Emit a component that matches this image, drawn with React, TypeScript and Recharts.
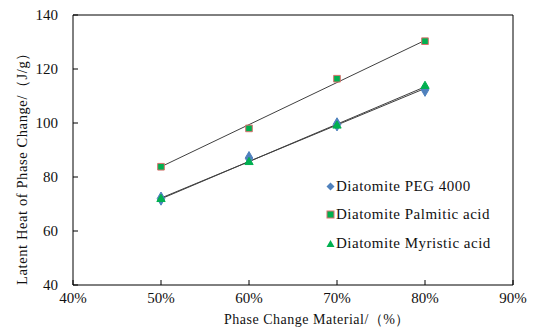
import { ComposedChart, Scatter, Line, XAxis, YAxis, ReferenceLine, Label, Symbols } from 'recharts';

const percents = [50, 60, 70, 80];
const pegValues = [72, 87, 99.5, 112.3];
const palmiticValues = [83.8, 98, 116.4, 130.3];
const myristicValues = [71.8, 85.5, 99, 113.7];

// trendline ends
const trendEnds = [50, 80];
const pegTrend = [72.2, 112.8];
const palmiticTrend = [83.8, 130.6];
const myristicTrend = [71.9, 113.4];

const xTicks = [40, 50, 60, 70, 80, 90];
const yTicks = [40, 60, 80, 100, 120, 140];

const toRows = (xs: number[], ys: number[]) => xs.map((x, i) => ({ x, y: ys[i] }));

const SERIES = [
  { name: 'Diatomite PEG 4000', points: pegValues, trend: pegTrend, shape: 'diamond', size: 50, fill: '#4f81bd', stroke: '#4f81bd' },
  { name: 'Diatomite Palmitic acid', points: palmiticValues, trend: palmiticTrend, shape: 'square', size: 44, fill: '#00b050', stroke: '#d9716e' },
  { name: 'Diatomite Myristic acid', points: myristicValues, trend: myristicTrend, shape: 'triangle', size: 30, fill: '#00b050', stroke: '#00b050' },
];

const FONT = "'Liberation Serif', serif";

function LegendMarker({ shape, fill, stroke }: { shape: string; fill: string; stroke: string }) {
  return (
    <svg width={9} height={9} style={{ marginRight: 1 }}>
      {shape === 'diamond' && <polygon points="4.5,0.5 8.5,4.5 4.5,8.5 0.5,4.5" fill={fill} />}
      {shape === 'square' && <rect x={1} y={1} width={7} height={7} fill={fill} stroke={stroke} strokeWidth={1} />}
      {shape === 'triangle' && <polygon points="4.5,1 8.5,8 0.5,8" fill={fill} />}
    </svg>
  );
}

function ChartLegend() {
  return (
    <div style={{ position: 'absolute', left: 326, top: 172, fontFamily: FONT, fontSize: 15, letterSpacing: 0.5, color: '#111', lineHeight: 1 }}>
      {SERIES.map((s) => (
        <div key={s.name} style={{ display: 'flex', alignItems: 'center', height: 28.5 }}>
          <LegendMarker shape={s.shape} fill={s.fill} stroke={s.stroke} />
          <span>{s.name}</span>
        </div>
      ))}
    </div>
  );
}

export default function App() {
  return (
    <div style={{ position: 'absolute', left: 0, top: 0, width: 534, height: 336, background: '#fff' }}>
      <ComposedChart width={534} height={336} margin={{ top: 15, right: 21, bottom: 11, left: 28 }}>
        <XAxis
          dataKey="x"
          type="number"
          domain={[40, 90]}
          ticks={xTicks}
          tickFormatter={(v: number) => `${v}%`}
          axisLine={{ stroke: '#000' }}
          tickLine={{ stroke: '#000' }}
          tickSize={-5}
          tickMargin={12}
          height={40}
          tick={{ fill: '#111', fontFamily: FONT, fontSize: 15 }}
        >
          <Label
            value="Phase Change Material/（%）"
            position="insideBottom"
            offset={1}
            dx={24}
            style={{ fill: '#111', fontFamily: FONT, fontSize: 14, letterSpacing: 0.5 }}
          />
        </XAxis>
        <YAxis
          type="number"
          domain={[40, 140]}
          ticks={yTicks}
          axisLine={{ stroke: '#000' }}
          tickLine={{ stroke: '#000' }}
          tickSize={-5}
          tickMargin={20}
          width={45}
          tick={{ fill: '#111', fontFamily: FONT, fontSize: 15 }}
        >
          <Label
            value="Latent  Heat  of Phase  Change/（J/g）"
            angle={-90}
            position="insideLeft"
            offset={-6}
            dy={15}
            style={{ fill: '#111', fontFamily: FONT, fontSize: 14.5, letterSpacing: 0.6, textAnchor: 'middle' }}
          />
        </YAxis>
        <ReferenceLine y={140} stroke="#000" strokeWidth={1} />
        <ReferenceLine x={90} stroke="#000" strokeWidth={1} />
        {SERIES.map((s) => (
          <Scatter
            key={`pts-${s.name}`}
            name={s.name}
            data={toRows(percents, s.points)}
            dataKey="y"
            shape={(p: any) => (
              <Symbols cx={p.cx} cy={p.cy} type={s.shape as any} size={s.size} fill={s.fill} stroke={s.stroke} strokeWidth={1} />
            )}
            isAnimationActive={false}
            legendType="none"
          />
        ))}
        {SERIES.map((s) => (
          <Line
            key={`trend-${s.name}`}
            data={toRows(trendEnds, s.trend)}
            dataKey="y"
            stroke="#404040"
            strokeWidth={1}
            dot={false}
            activeDot={false}
            isAnimationActive={false}
            legendType="none"
          />
        ))}
      </ComposedChart>
      <ChartLegend />
    </div>
  );
}
